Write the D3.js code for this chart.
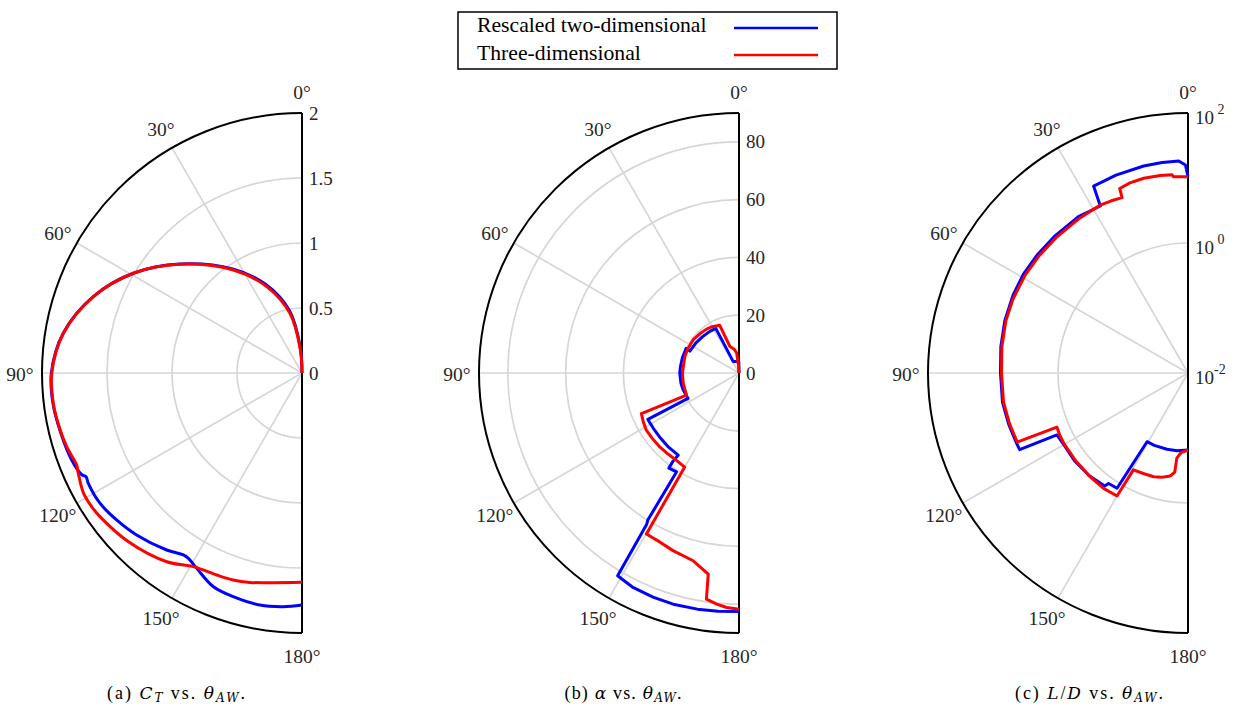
<!DOCTYPE html>
<html>
<head>
<meta charset="utf-8">
<script src="https://cdn.jsdelivr.net/npm/d3@7"></script>
<style>
  body { margin: 0; background: #fff; }
  svg { display: block; font-family: "Liberation Serif", "Times New Roman", serif; }
</style>
</head>
<body>
<div id="chart"></div>
<script>
const WIDTH = 1235, HEIGHT = 708, R = 260, CY = 373;
const BLUE = '#0000ff', RED = '#ff0000', GRID = '#d6d6d6', INK = '#262626';

const angleTicks = [0, 30, 60, 90, 120, 150, 180];
const seriesNames = ['Rescaled two-dimensional', 'Three-dimensional'];

// (a) thrust coefficient
const ctTicks = [0, 0.5, 1, 1.5, 2];
const ctAngles2D = [0, 4, 11.4, 22.2, 33.7, 48.3, 59.4, 69.9, 80.6, 90, 96.9, 104, 110.7, 114.8, 115.6, 117.3, 122.8, 128.4, 134.4, 142.6, 146.9, 148.5, 151.7, 157.5, 162.9, 169.7, 175.4, 180];
const ct2D = [0, 0.2, 0.49, 0.735, 0.962, 1.26, 1.507, 1.71, 1.863, 1.928, 1.93, 1.912, 1.894, 1.866, 1.843, 1.85, 1.849, 1.82, 1.781, 1.714, 1.671, 1.672, 1.707, 1.78, 1.8, 1.814, 1.803, 1.785];
const ctAngles3D = [0, 4, 11.4, 22.2, 33.7, 48.3, 59.4, 69.9, 80.6, 90, 96.9, 102, 107.4, 112.2, 114, 118.8, 122.4, 125.4, 134.2, 144.4, 150.7, 157.1, 161.6, 166, 172.2, 180];
const ct3D = [0, 0.18, 0.468, 0.718, 0.952, 1.257, 1.507, 1.709, 1.861, 1.925, 1.927, 1.915, 1.897, 1.872, 1.885, 1.918, 1.917, 1.907, 1.862, 1.786, 1.708, 1.687, 1.678, 1.66, 1.628, 1.61];

// (b) angle of attack
const alphaTicks = [0, 20, 40, 60, 80];
const alphaAngles2D = [0, 1, 27, 27.5, 35, 45, 55, 66, 65, 75, 84, 90, 100, 106.7, 116.5, 117, 123, 129, 136, 143.5, 143.2, 143.6, 147.7, 148.2, 148.6, 149.1, 153.7, 159, 164.1, 170, 175, 180];
const alpha2D = [0, 4, 4.5, 17.4, 17.6, 17.8, 18.2, 18.6, 20.2, 20.3, 20.4, 20.5, 20.4, 20.2, 19.7, 35.4, 35.3, 35.3, 35.4, 35.4, 38.1, 40.9, 40.5, 60, 61.3, 81.8, 82.8, 83.1, 83.2, 83, 82.8, 82.6];
const alphaAngles3D = [0, 2, 5.7, 6.6, 12, 18.9, 22, 30, 36.5, 45, 54, 65, 73, 90, 100, 107.2, 112.8, 112.6, 117, 121.7, 127, 133, 139, 144.4, 150, 150.1, 155, 159.6, 166.3, 171.3, 171.8, 174.5, 177, 180];
const alpha3D = [0, 2, 4.5, 7, 8.5, 9.7, 17.8, 18.5, 18.9, 19.2, 19.6, 19.6, 19.6, 19.6, 19.6, 19.6, 19.7, 36.6, 37.2, 37.7, 37.6, 37.5, 37.3, 37.2, 37.6, 64.3, 64.6, 65.6, 66.9, 70.4, 79.1, 80.4, 81.3, 81.8];

// (c) lift-to-drag ratio (log radial axis)
const ldTicks = [1e-2, 1e0, 1e2];
const ldExponents = ['-2', ' 0', ' 2'];
const ldAngles2D = [0, 0.7, 2.5, 7, 12.1, 20, 26.8, 27.7, 35, 44, 52, 59, 66, 74, 82, 90, 99, 106, 112, 114.5, 115.3, 120, 128, 136, 143.6, 144.3, 148.4, 149.2, 155, 164.6, 172, 180];
const ld2D = [10.47, 15.85, 18.4, 18.27, 18.07, 17.32, 16.66, 7.97, 8.68, 8.68, 8.84, 8.99, 8.84, 8.53, 8.09, 7.67, 7.75, 7.4, 7.09, 7.02, 1.7, 1.61, 1.61, 1.56, 1.45, 1.24, 1.21, 0.17, 0.169, 0.165, 0.161, 0.153];
const ldAngles3D = [0, 4.2, 4.6, 8, 12.8, 17, 20.3, 20.6, 24, 27.6, 35, 44, 52, 59, 67, 74, 82, 90, 99, 106, 112, 112.4, 116, 119.5, 128, 136.7, 143.8, 150, 150.6, 156, 161.7, 166, 170.3, 172.4, 172.5, 175, 180];
const ld3D = [10.47, 10.66, 11.44, 11.73, 11.81, 11.44, 10.62, 7.64, 7.94, 8.23, 8.09, 8.09, 8.23, 8.38, 8.38, 8.23, 7.8, 7.4, 7.48, 7.14, 6.84, 1.52, 1.56, 1.57, 1.56, 1.56, 1.58, 1.53, 0.514, 0.492, 0.479, 0.45, 0.405, 0.345, 0.21, 0.17, 0.153];

const svg = d3.select('#chart').append('svg')
    .attr('width', WIDTH).attr('height', HEIGHT)
    .attr('viewBox', `0 0 ${WIDTH} ${HEIGHT}`);

const rad = (deg) => deg * Math.PI / 180;
const zip = (angles, values) => angles.map((a, i) => ({ a, v: values[i] }));

function drawPanel(cx, r, opts) {
    const g = svg.append('g').attr('transform', `translate(${cx},${CY})`);

    // rings
    opts.grid.forEach((v) => {
        const p = d3.path();
        p.arc(0, 0, r(v), -Math.PI / 2, Math.PI / 2, true);
        g.append('path').attr('d', p.toString())
            .attr('fill', 'none').attr('stroke', GRID).attr('stroke-width', 1.7);
    });
    // spokes
    angleTicks.filter((a) => a > 0 && a < 180).forEach((a) => {
        g.append('line')
            .attr('x1', 0).attr('y1', 0)
            .attr('x2', -R * Math.sin(rad(a))).attr('y2', -R * Math.cos(rad(a)))
            .attr('stroke', GRID).attr('stroke-width', 1.7);
    });

    // outer arc and radial axis
    const outer = d3.path();
    outer.arc(0, 0, R, -Math.PI / 2, Math.PI / 2, true);
    g.append('path').attr('d', outer.toString())
        .attr('fill', 'none').attr('stroke', '#000').attr('stroke-width', 2);
    g.append('line').attr('x1', 0).attr('x2', 0).attr('y1', -R).attr('y2', R)
        .attr('stroke', '#000').attr('stroke-width', 2);

    // angle labels
    angleTicks.forEach((a) => {
        const rr = R + 22;
        g.append('text')
            .attr('x', -rr * Math.sin(rad(a)))
            .attr('y', -rr * Math.cos(rad(a)) + 1)
            .attr('text-anchor', 'middle').attr('dominant-baseline', 'central')
            .attr('font-size', 19.5).attr('fill', INK)
            .text(`${a}°`);
    });

    // radial tick labels
    opts.ticks.forEach((v, i) => {
        const t = g.append('text')
            .attr('x', 7).attr('y', -r(v))
            .attr('dominant-baseline', 'central')
            .attr('font-size', 19).attr('fill', INK);
        if (opts.exponents) {
            t.attr('y', -r(v) + 4).text('10');
            t.append('tspan').attr('font-size', 14).attr('dy', -8)
                .attr('xml:space', 'preserve').text(opts.exponents[i]);
        } else {
            t.text(opts.format(v));
        }
    });

    // data lines
    const line = d3.lineRadial()
        .angle((d) => -rad(d.a))
        .radius((d) => r(d.v))
        .curve(opts.curve);
    opts.series.forEach((s) => {
        g.append('path').datum(s.data)
            .attr('d', line)
            .attr('fill', 'none').attr('stroke', s.color)
            .attr('stroke-width', 3).attr('stroke-linejoin', 'round');
    });
}

const rCt = d3.scaleLinear().domain([0, 2]).range([0, R]);
drawPanel(302, rCt, {
    grid: [0.5, 1, 1.5],
    ticks: ctTicks,
    format: (v) => String(v),
    curve: d3.curveCatmullRom.alpha(0.5),
    series: [
        { color: BLUE, data: zip(ctAngles2D, ct2D) },
        { color: RED, data: zip(ctAngles3D, ct3D) }
    ]
});

const rAlpha = d3.scaleLinear().domain([0, 90]).range([0, R]);
drawPanel(739, rAlpha, {
    grid: [20, 40, 60, 80],
    ticks: alphaTicks,
    format: (v) => String(v),
    curve: d3.curveLinear,
    series: [
        { color: BLUE, data: zip(alphaAngles2D, alpha2D) },
        { color: RED, data: zip(alphaAngles3D, alpha3D) }
    ]
});

const rLd = d3.scaleLog().domain([1e-2, 1e2]).range([0, R]);
drawPanel(1188, rLd, {
    grid: [1],
    ticks: ldTicks,
    exponents: ldExponents,
    curve: d3.curveLinear,
    series: [
        { color: BLUE, data: zip(ldAngles2D, ld2D) },
        { color: RED, data: zip(ldAngles3D, ld3D) }
    ]
});

// legend
const legend = svg.append('g');
legend.append('rect').attr('x', 458).attr('y', 12).attr('width', 379).attr('height', 57)
    .attr('fill', '#fff').attr('stroke', '#000').attr('stroke-width', 1.5);
[BLUE, RED].forEach((c, i) => {
    legend.append('text').attr('x', 477).attr('y', 32 + i * 28)
        .attr('font-size', 21.7).attr('fill', '#000').text(seriesNames[i]);
    legend.append('line').attr('x1', 734).attr('x2', 818)
        .attr('y1', 28 + i * 27).attr('y2', 28 + i * 27)
        .attr('stroke', c).attr('stroke-width', 2.5);
});

// captions
const captions = [
    { x: 176, len: 138, parts: [['(a) ', 'n'], ['C', 'i'], ['T', 's'], [' vs. ', 'n'], ['θ', 'i'], ['AW', 's'], ['.', 'n']] },
    { x: 623, len: 117, parts: [['(b) ', 'n'], ['α', 'i'], [' vs. ', 'n'], ['θ', 'i'], ['AW', 's'], ['.', 'n']] },
    { x: 1089, len: 148, parts: [['(c) ', 'n'], ['L', 'i'], ['/', 'n'], ['D', 'i'], [' vs. ', 'n'], ['θ', 'i'], ['AW', 's'], ['.', 'n']] }
];
captions.forEach((c) => {
    const t = svg.append('text').attr('x', c.x).attr('y', 699)
        .attr('text-anchor', 'middle').attr('font-size', 18).attr('fill', '#000')
        .attr('textLength', c.len).attr('lengthAdjust', 'spacing')
        .attr('xml:space', 'preserve');
    let sub = false;
    c.parts.forEach(([txt, kind]) => {
        const span = t.append('tspan').text(txt);
        if (kind === 'i' || kind === 's') {
            span.attr('font-style', 'italic').attr('font-family', '"DejaVu Serif", serif');
        }
        if (kind === 'i') span.attr('font-size', 17);
        if (kind === 's') {
            span.attr('font-size', 12);
            if (!sub) span.attr('dy', 3);
            sub = true;
        } else if (sub) {
            span.attr('dy', -3);
            sub = false;
        }
    });
});
</script>
</body>
</html>
